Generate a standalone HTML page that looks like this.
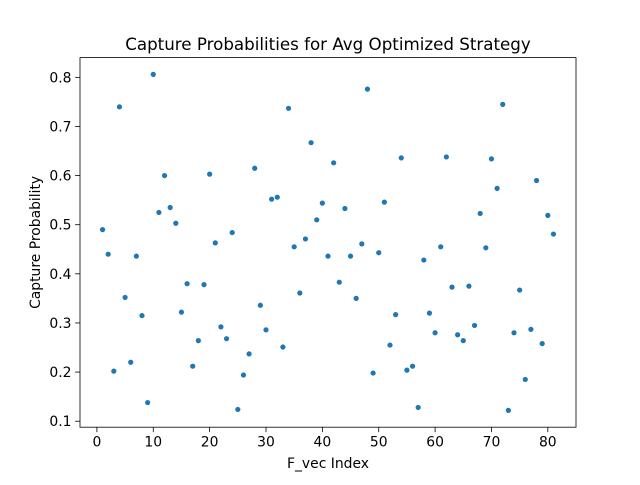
<!DOCTYPE html>
<html><head><meta charset="utf-8">
<style>
html,body{margin:0;padding:0;background:#fff;}
text{font-family:"DejaVu Sans","Liberation Sans",sans-serif;fill:#000;}
</style></head>
<body>
<svg id="chart" width="640" height="480" xmlns="http://www.w3.org/2000/svg">
<rect width="640" height="480" fill="#fff"/>
<g id="marks"></g>
<g id="axes"></g>
</svg>
<script>
const xValues = [1,2,3,4,5,6,7,8,9,10,11,12,13,14,15,16,17,18,19,20,21,22,23,24,25,26,27,28,29,30,31,32,33,34,35,36,37,38,39,40,41,42,43,44,45,46,47,48,49,50,51,52,53,54,55,56,57,58,59,60,61,62,63,64,65,66,67,68,69,70,71,72,73,74,75,76,77,78,79,80,81];
const yValues = [0.49,0.44,0.202,0.74,0.352,0.22,0.436,0.315,0.138,0.806,0.525,0.60,0.535,0.503,0.322,0.38,0.212,0.264,0.378,0.603,0.463,0.292,0.268,0.484,0.124,0.194,0.237,0.615,0.336,0.286,0.552,0.556,0.251,0.737,0.455,0.361,0.471,0.667,0.51,0.544,0.436,0.626,0.383,0.533,0.436,0.35,0.461,0.776,0.198,0.443,0.546,0.255,0.317,0.636,0.204,0.212,0.128,0.428,0.32,0.28,0.455,0.638,0.373,0.276,0.264,0.375,0.295,0.523,0.453,0.634,0.574,0.745,0.122,0.28,0.367,0.185,0.287,0.59,0.258,0.519,0.481];
const xTicks = [0,10,20,30,40,50,60,70,80];
const yTicks = [0.1,0.2,0.3,0.4,0.5,0.6,0.7,0.8];
const yTickLabels = ["0.1","0.2","0.3","0.4","0.5","0.6","0.7","0.8"];

const NS="http://www.w3.org/2000/svg";
const L=80,R=576,T=57.6,B=427.2;
const xmin0=Math.min(...xValues),xmax0=Math.max(...xValues);
const ymin0=Math.min(...yValues),ymax0=Math.max(...yValues);
const xp=(xmax0-xmin0)*0.05, yp=(ymax0-ymin0)*0.05;
const xlo=xmin0-xp,xhi=xmax0+xp,ylo=ymin0-yp,yhi=ymax0+yp;
const sx=v=>L+(v-xlo)/(xhi-xlo)*(R-L);
const sy=v=>B-(v-ylo)/(yhi-ylo)*(B-T);
function mk(tag,attrs,parent,txt){const e=document.createElementNS(NS,tag);for(const k in attrs)e.setAttribute(k,attrs[k]);if(txt!==undefined)e.textContent=txt;parent.appendChild(e);return e;}
const marks=document.getElementById('marks');
xValues.forEach((x,i)=>{
  const c=mk('circle',{cx:sx(x),cy:sy(yValues[i]),r:2.6,fill:'#1f77b4'},marks);
  
  
});
const ax=document.getElementById('axes');
const frame=mk('rect',{x:L,y:T,width:R-L,height:B-T,fill:'none',stroke:'#000','stroke-width':0.8},ax);


xTicks.forEach(t=>{
  const x=sx(t);
  mk('line',{x1:x,x2:x,y1:B,y2:B+4.9,stroke:'#000','stroke-width':0.8},ax);
  const tl=mk('text',{x:x,y:B+19.5,'font-size':13.9,'text-anchor':'middle'},ax,String(t));
  
  
});
yTicks.forEach((t,i)=>{
  const y=sy(t);
  mk('line',{x1:L-4.9,x2:L,y1:y,y2:y,stroke:'#000','stroke-width':0.8},ax);
  const tl=mk('text',{x:L-8.5,y:y+5,'font-size':13.9,'text-anchor':'end'},ax,yTickLabels[i]);
  
  
});
const title=mk('text',{x:(L+R)/2,y:50,'font-size':16.7,'text-anchor':'middle'},ax,'Capture Probabilities for Avg Optimized Strategy');


const xt=mk('text',{x:(L+R)/2,y:468,'font-size':13.9,'text-anchor':'middle'},ax,'F_vec Index');


const yt=mk('text',{x:0,y:0,'font-size':13.9,'text-anchor':'middle',transform:`translate(40,${(T+B)/2}) rotate(-90)`},ax,'Capture Probability');


</script>
</body></html>
